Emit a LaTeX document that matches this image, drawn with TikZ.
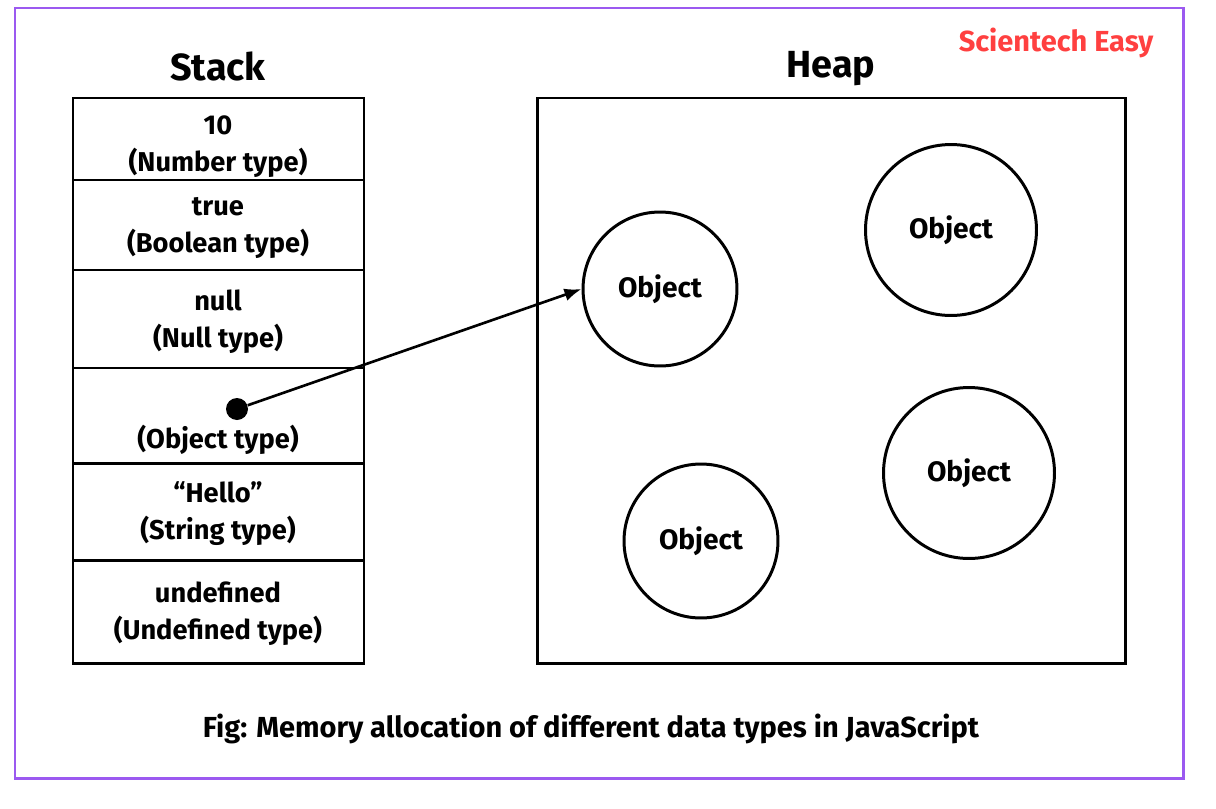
\documentclass[tikz,border=0pt]{standalone}
\usepackage{fontspec}
\setmainfont{Fira Sans}
\usepackage{tikz}
\usetikzlibrary{arrows.meta}

\definecolor{framepurple}{HTML}{9B59F0}
\definecolor{brandred}{HTML}{FF4040}

\tikzset{
  boxline/.style={line width=1.7pt,black},
  celltext/.style={font=\bfseries\fontsize{15.5}{21}\selectfont,align=center,inner sep=0pt},
  heading/.style={font=\bfseries\fontsize{21.5}{24}\selectfont,inner sep=0pt},
  heapobj/.style={circle,draw,line width=1.7pt,inner sep=0pt,font=\bfseries\fontsize{16}{18}\selectfont},
}

\begin{document}
\begin{tikzpicture}[>=Latex,x=0.02cm,y=-0.02cm]
  \useasboundingbox (0,0) rectangle (1216,808);
  % outer frame
  \draw[framepurple,line width=1.7pt] (15,8) rectangle (1183,778);
  \node[font=\bfseries\fontsize{16.5}{19}\selectfont,text=brandred,inner sep=0pt] (brand) at (1056,43) {Scientech Easy};

  % Stack column
  \node[heading] (stacktitle) at (218,66) {Stack};
  \draw[boxline] (73,98) rectangle (364,663);
  \foreach \y in {180,270,368,463,560}
    \draw[boxline] (73,\y) -- (364,\y);
  \foreach \y/\txt/\nm in {147/{10\\(Number type)}/num, 228/{true\\(Boolean type)}/bool,
      322/{null\\(Null type)}/nul, 514/{“Hello”\\(String type)}/str, 614/{undefined\\(Undefined type)}/undef}
    \node[celltext] (\nm) at (218,\y) {\txt};
  \node[celltext] (objtype) at (218,440) {(Object type)};
  \node[circle,fill=black,minimum size=0.44cm,inner sep=0pt] (dot) at (237,409) {};

  % Heap
  \node[heading] (heaptitle) at (831,69) {Heap};
  \draw[boxline] (537,98) rectangle (1125,663);
  \node[heapobj,minimum size=3.08cm] (obj1) at (660,289) {Object};
  \node[heapobj,minimum size=3.42cm] (obj2) at (951,230) {Object};
  \node[heapobj,minimum size=3.42cm] (obj3) at (969,473) {Object};
  \node[heapobj,minimum size=3.08cm] (obj4) at (701,541) {Object};

  % reference
  \draw[->,line width=1.5pt] (dot) -- (obj1.west);

  \node[font=\bfseries\fontsize{16.5}{19}\selectfont,inner sep=0pt] (caption) at (591,729)
    {Fig: Memory allocation of different data types in JavaScript};
\end{tikzpicture}
\end{document}
